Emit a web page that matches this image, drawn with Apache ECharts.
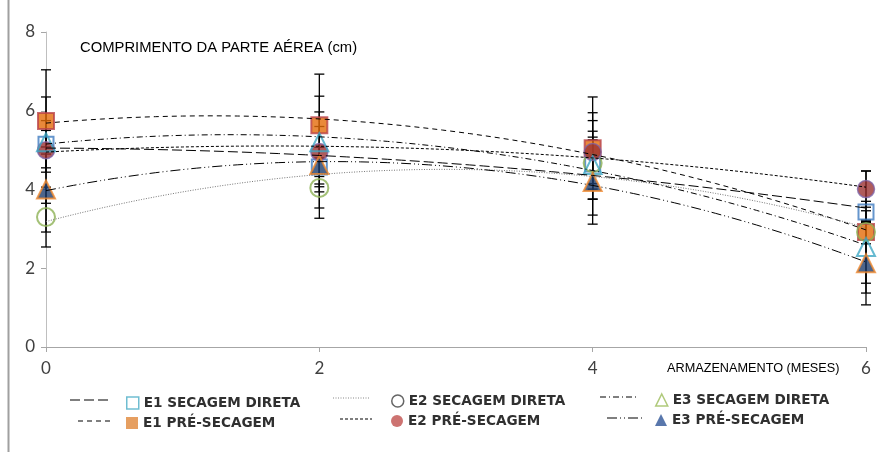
<!DOCTYPE html>
<html><head><meta charset="utf-8">
<script src="https://cdn.jsdelivr.net/npm/echarts/dist/echarts.min.js"></script>
<style>html,body{margin:0;padding:0;background:#fff}#c{width:882px;height:452px}</style>
</head><body><div id="c"></div>
<script>
// ---- data ----
const months = [0, 2, 4, 6];
const xTickStep = 2;
const yTickStep = 2;
const seriesNames = ['E1 SECAGEM DIRETA','E1 PRÉ-SECAGEM','E2 SECAGEM DIRETA','E2 PRÉ-SECAGEM','E3 SECAGEM DIRETA','E3 PRÉ-SECAGEM'];
const e1Direta = [5.15, 4.57, 4.65, 3.43];
const e1Pre    = [5.74, 5.63, 5.05, 2.92];
const e2Direta = [3.30, 4.04, 4.67, 2.92];
const e2Pre    = [5.00, 4.95, 4.95, 4.01];
const e3Direta = [5.20, 5.20, 4.62, 2.54];
const e3Pre    = [4.00, 4.62, 4.19, 2.13];
const e1DiretaErr = [0.60, 0.50, 1.30, 0.27];
const e1PreErr    = [1.30, 1.30, 1.30, 1.55];
const e2DiretaErr = [0.76, 0.10, 0.66, 0.30];
const e2PreErr    = [1.35, 1.42, 0.80, 0.46];
const e3DiretaErr = [0.30, 0.40, 0.86, 0.92];
const e3PreErr    = [1.08, 1.35, 1.07, 1.06];
const titleText = 'COMPRIMENTO DA PARTE AÉREA (cm)';
const xName = 'ARMAZENAMENTO (MESES)';

const values = [e1Direta, e1Pre, e2Direta, e2Pre, e3Direta, e3Pre];
const errs = [e1DiretaErr, e1PreErr, e2DiretaErr, e2PreErr, e3DiretaErr, e3PreErr];

// ---- styles ----
const markers = [
  {symbol:'rect', size:15, itemStyle:{color:'rgba(255,255,255,0)', borderColor:'#3E7CC0', borderWidth:2}},
  {symbol:'rect', size:16, itemStyle:{color:'#E46C0A', borderColor:'#B9434A', borderWidth:2}},
  {symbol:'circle', size:18, itemStyle:{color:'rgba(255,255,255,0)', borderColor:'#8DB255', borderWidth:2}},
  {symbol:'circle', size:17, itemStyle:{color:'#9B3232', borderColor:'#7E64A8', borderWidth:1.5}},
  {symbol:'triangle', size:18, itemStyle:{color:'rgba(255,255,255,0)', borderColor:'#3FA8C4', borderWidth:2}},
  {symbol:'triangle', size:18, itemStyle:{color:'#1F3F6E', borderColor:'#F08A30', borderWidth:2}}
];
const legendIcons = [
  {icon:'rect', itemStyle:{color:'#fff', borderColor:'#4BACC6', borderWidth:1.5}},
  {icon:'rect', itemStyle:{color:'#E0873A', borderWidth:0}},
  {icon:'circle', itemStyle:{color:'#fff', borderColor:'#404040', borderWidth:1.5}},
  {icon:'circle', itemStyle:{color:'#C0504D', borderWidth:0}},
  {icon:'triangle', itemStyle:{color:'#fff', borderColor:'#9BBB59', borderWidth:1.5}},
  {icon:'triangle', itemStyle:{color:'#2F5597', borderWidth:0}}
];
const dashes = [[10,4],[5,4],[1,1.5],[3,2],[6,3,1,3],[10,3,1,3,1,3]];
const trendColors = ['#000','#000','#777','#000','#000','#000'];
const legendPos = [
  {left:121, top:391, line:[70,110,400]},
  {left:121, top:411, line:[78,110,421]},
  {left:386, top:389, line:[333,370,398]},
  {left:386, top:409, line:[340,372,419]},
  {left:650, top:388, line:[600,637,397]},
  {left:650, top:408, line:[607,643,418]}
];

// quadratic least-squares trendline (like the spreadsheet's polynomial trendline)
function quadFit(xs, ys){
  let S=[0,0,0,0,0], T=[0,0,0];
  for(let i=0;i<xs.length;i++){
    let p=1;
    for(let k=0;k<5;k++){S[k]+=p; if(k<3) T[k]+=p*ys[i]; p*=xs[i];}
  }
  const A=[[S[0],S[1],S[2],T[0]],[S[1],S[2],S[3],T[1]],[S[2],S[3],S[4],T[2]]];
  for(let i=0;i<3;i++){
    for(let j=i+1;j<3;j++){const f=A[j][i]/A[i][i]; for(let k=i;k<4;k++) A[j][k]-=f*A[i][k];}
  }
  const c=[0,0,0];
  for(let i=2;i>=0;i--){let s=A[i][3]; for(let k=i+1;k<3;k++) s-=A[i][k]*c[k]; c[i]=s/A[i][i];}
  return c;
}

const series = [];
// error bars
values.forEach((vals, si) => {
  series.push({
    type:'custom', name:seriesNames[si]+' err', z:2, silent:true,
    data: months.map((m,i)=>[m, vals[i]-errs[si][i], vals[i]+errs[si][i]]),
    renderItem(params, api){
      const x=api.value(0);
      const p1=api.coord([x, api.value(2)]), p2=api.coord([x, api.value(1)]);
      const w=5, st={stroke:'#000', lineWidth:1.3};
      return {type:'group', children:[
        {type:'line', shape:{x1:p1[0],y1:p1[1],x2:p2[0],y2:p2[1]}, style:st},
        {type:'line', shape:{x1:p1[0]-w,y1:p1[1],x2:p1[0]+w,y2:p1[1]}, style:st},
        {type:'line', shape:{x1:p2[0]-w,y1:p2[1],x2:p2[0]+w,y2:p2[1]}, style:st}
      ]};
    }
  });
});
// markers
values.forEach((vals, si) => {
  series.push({
    type:'scatter', name:seriesNames[si], z:3+si,
    symbol:markers[si].symbol, symbolSize:markers[si].size,
    itemStyle:markers[si].itemStyle,
    data: months.map((m,i)=>[m, vals[i]])
  });
});
// trendlines
values.forEach((vals, si) => {
  const c = quadFit(months, vals);
  const pts = [];
  for(let k=0;k<=60;k++){const x=k*0.1; pts.push([x, c[0]+c[1]*x+c[2]*x*x]);}
  series.push({
    type:'line', name:seriesNames[si]+' trend', z:20, silent:true, showSymbol:false, symbol:'none',
    lineStyle:{color:trendColors[si], width:1, type:dashes[si]},
    data: pts
  });
});

const legends = seriesNames.map((n, si) => ({
  left: legendPos[si].left, top: legendPos[si].top,
  itemWidth: 12, itemHeight: 12, selectedMode:false,
  textStyle:{fontFamily:'DejaVu Sans', fontWeight:'bold', fontSize:13.6, color:'#303030'},
  data:[{name:n, icon:legendIcons[si].icon, itemStyle:legendIcons[si].itemStyle}]
}));

const graphics = [
  {type:'line', shape:{x1:8.5,y1:0,x2:8.5,y2:452}, style:{stroke:'#A0A0A0', lineWidth:2}},
  {type:'text', left:667, top:362, style:{text:xName, font:'12.7px "Liberation Sans"', fill:'#000'}}
];
legendPos.forEach((lp, si) => {
  graphics.push({type:'line', shape:{x1:lp.line[0], y1:lp.line[2], x2:lp.line[1], y2:lp.line[2]},
    style:{stroke: si===2 ? '#888' : '#000', lineWidth:1.2, lineDash:dashes[si]}});
});

const chart = echarts.init(document.getElementById('c'));
chart.setOption({
  animation:false,
  backgroundColor:'#fff',
  title:{text:titleText, left:75, top:35, textStyle:{fontFamily:'Liberation Sans', fontWeight:'normal', fontSize:14.8, color:'#000'}},
  grid:{left:46, right:16, top:32, bottom:105},
  xAxis:{type:'value', min:0, max:6, interval:xTickStep,
    axisLine:{lineStyle:{color:'#A6A6A6', width:1}},
    axisTick:{show:true, length:5, lineStyle:{color:'#A6A6A6'}},
    splitLine:{show:false},
    axisLabel:{fontFamily:'Lato', fontSize:17, color:'#404040', margin:13}},
  yAxis:{type:'value', min:0, max:8, interval:yTickStep,
    axisLine:{show:true, lineStyle:{color:'#BFBFBF', width:1}},
    axisTick:{show:true, length:5, lineStyle:{color:'#A6A6A6'}},
    splitLine:{show:false},
    axisLabel:{fontFamily:'Lato', fontSize:17, color:'#404040', margin:11}},
  legend: legends,
  graphic: graphics,
  series: series
});
</script></body></html>
